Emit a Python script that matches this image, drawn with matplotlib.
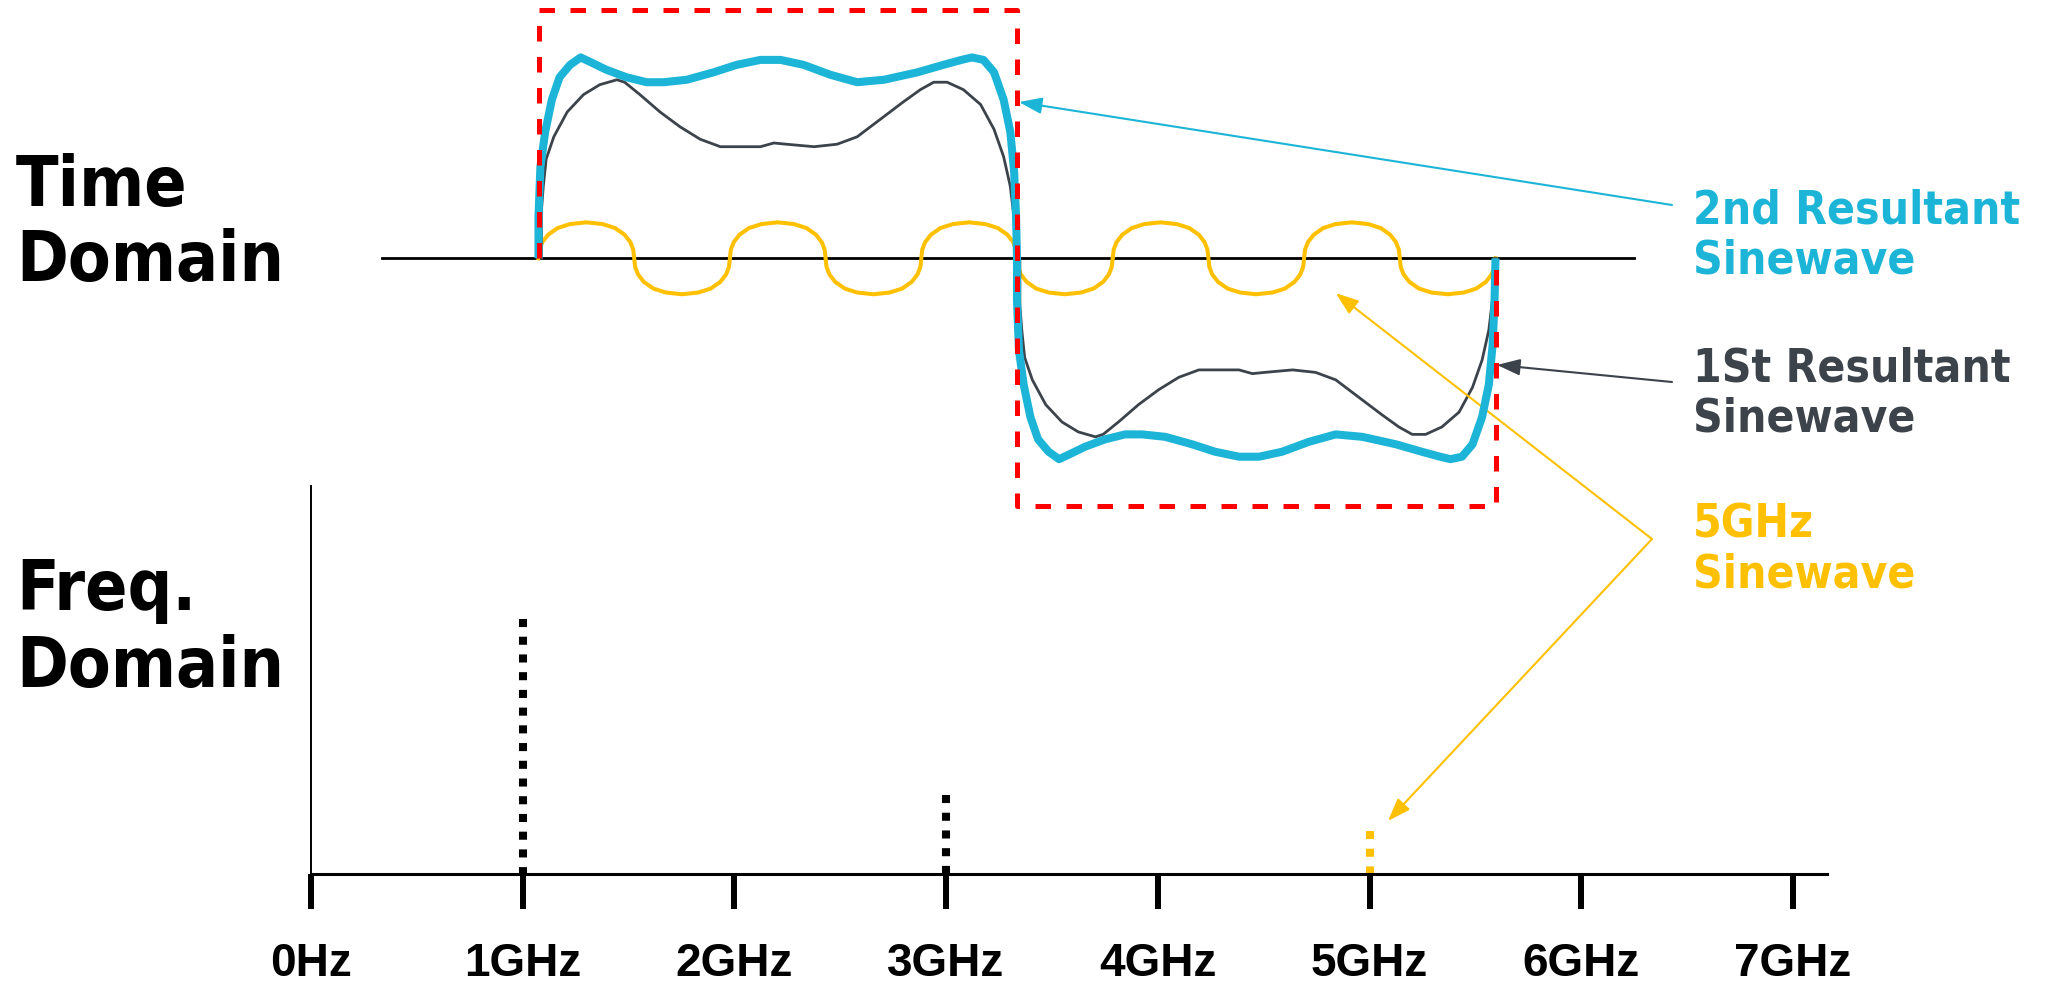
import os
import matplotlib
matplotlib.use('Agg')
import matplotlib.pyplot as plt
from matplotlib import font_manager as fm

W, H = 2049, 987

# ideal 1 GHz square wave (time in ns, amplitude 1 = square wave level)
square_t = [0.0, 0.0, 0.5, 0.5, 1.0, 1.0]
square_v = [0.0, 1.0, 1.0, -1.0, -1.0, 0.0]

# positive half cycle, the negative half mirrors it
blue_t = [0.000, 0.000, 0.002, 0.007, 0.014, 0.022, 0.033, 0.044, 0.055, 0.071,
          0.092, 0.113, 0.131, 0.155, 0.183, 0.207, 0.232, 0.253, 0.277, 0.305,
          0.333, 0.361, 0.396, 0.423, 0.442, 0.453, 0.465, 0.476, 0.486, 0.493,
          0.497, 0.499, 0.500]
blue_v = [0.00, 0.17, 0.37, 0.51, 0.64, 0.73, 0.78, 0.81, 0.79, 0.76,
          0.73, 0.71, 0.71, 0.72, 0.75, 0.78, 0.80, 0.80, 0.78, 0.74,
          0.71, 0.72, 0.75, 0.78, 0.80, 0.81, 0.80, 0.75, 0.64, 0.51,
          0.35, 0.17, 0.00]

black_t = [0.003, 0.003, 0.005, 0.008, 0.016, 0.030, 0.047, 0.064, 0.082, 0.090,
           0.106, 0.127, 0.148, 0.169, 0.190, 0.211, 0.232, 0.246, 0.259, 0.288,
           0.312, 0.333, 0.357, 0.381, 0.399, 0.413, 0.427, 0.444, 0.462, 0.476,
           0.486, 0.493, 0.498, 0.500]
black_v = [0.00, 0.19, 0.29, 0.40, 0.49, 0.59, 0.66, 0.70, 0.72, 0.71,
           0.66, 0.59, 0.53, 0.48, 0.45, 0.45, 0.45, 0.465, 0.46, 0.45,
           0.46, 0.49, 0.56, 0.63, 0.68, 0.71, 0.71, 0.68, 0.62, 0.52,
           0.41, 0.29, 0.13, 0.00]

# one 5 GHz cycle (0.2 ns) and where each cycle starts
sine_t = [0.000, 0.001, 0.004, 0.010, 0.020, 0.033, 0.050, 0.067, 0.080, 0.090,
          0.096, 0.099, 0.100, 0.101, 0.104, 0.110, 0.120, 0.133, 0.150, 0.167,
          0.180, 0.190, 0.196, 0.199, 0.200]
sine_v = [0.000, 0.035, 0.065, 0.095, 0.122, 0.138, 0.145, 0.138, 0.122, 0.095,
          0.065, 0.035, 0.000, -0.035, -0.065, -0.095, -0.122, -0.138, -0.145, -0.138,
          -0.122, -0.095, -0.065, -0.035, 0.000]
sine_starts = [0.0, 0.2, 0.4, 0.6, 0.8]

# spectrum
harm_ghz = [1, 3, 5]
harm_amp = [1.0, 0.31, 0.17]
harm_colors = ['#000000', '#000000', '#FFC000']
tick_ghz = [0, 1, 2, 3, 4, 5, 6, 7]
tick_labels = ['0Hz', '1GHz', '2GHz', '3GHz', '4GHz', '5GHz', '6GHz', '7GHz']

BLUE = '#1DB5D7'
DARK = '#3D434B'
YELLOW = '#FFC000'
RED = '#FF0000'

# Tahoma-like labels: condensed DejaVu bold if the system has it
cond = fm.findfont(fm.FontProperties(family='DejaVu Sans', weight='bold', stretch='condensed'))
has_cond = 'Condensed' in os.path.basename(cond)
big_size = 50 if has_cond else 45
side_size = 33 if has_cond else 30


def mirror(t, v):
    return t + [x + 0.5 for x in t], v + [-y for y in v]


def fig_text(x, y, s, color, size):
    fig.text(x / W, 1 - y / H, s, color=color, fontsize=size, fontweight='bold',
             family='DejaVu Sans', fontstretch='condensed', ha='left', va='baseline')


fig = plt.figure(figsize=(W / 100, H / 100), dpi=100)
fig.patch.set_facecolor('white')

# frequency domain (added first, transparent, so the time-domain box is not covered)
ax_f = fig.add_axes([311 / W, (H - 875) / H, (1827 - 311) / W, (875 - 487) / H])
ax_f.patch.set_visible(False)
ax_f.set_xlim(0, 7.161)
ax_f.set_ylim(0, 388 / 255)
for side in ['top', 'right']:
    ax_f.spines[side].set_visible(False)
ax_f.spines['left'].set_linewidth(1.4)
ax_f.spines['bottom'].set_linewidth(2.2)
ax_f.set_yticks([])
ax_f.set_xticks(tick_ghz)
ax_f.set_xticklabels(tick_labels, family='Liberation Sans', fontweight='bold', fontsize=33)
ax_f.tick_params(axis='x', direction='out', length=25, width=4.3, pad=23)

for f, a, c in zip(harm_ghz, harm_amp, harm_colors):
    ax_f.plot([f, f], [a, 0], color=c, lw=5.8, linestyle=(0, (1.0, 1.2)),
              dash_capstyle='butt', zorder=1)

# time domain
ax_t = fig.add_axes([538.5 / W, (H - 507.3) / H, 957 / W, 496 / H])
ax_t.patch.set_visible(False)
ax_t.set_xlim(0, 1)
ax_t.set_ylim(-1, 1)
ax_t.axis('off')

ax_t.plot([-0.1635, 1.1447], [0, 0], color='black', lw=2.0, clip_on=False, zorder=1)

yt, yv = [], []
for s in sine_starts:
    yt += [s + x for x in sine_t]
    yv += sine_v
ax_t.plot(yt, yv, color=YELLOW, lw=2.9, clip_on=False, zorder=2,
          solid_joinstyle='round')

bt, bv = mirror(black_t, black_v)
ax_t.plot(bt, bv, color=DARK, lw=2.0, clip_on=False, zorder=3,
          solid_joinstyle='round')

ct, cv = mirror(blue_t, blue_v)
ax_t.plot(ct, cv, color=BLUE, lw=5.8, clip_on=False, zorder=4,
          solid_joinstyle='round', solid_capstyle='butt')

ax_t.plot(square_t, square_v, color=RED, lw=3.6, linestyle=(0, (3.1, 3.1)),
          dash_capstyle='butt', clip_on=False, zorder=5)

# labels
fig_text(16, 206, 'Time', 'black', big_size)
fig_text(16, 281, 'Domain', 'black', big_size)
fig_text(16, 610, 'Freq.', 'black', big_size)
fig_text(16, 687, 'Domain', 'black', big_size)

fig_text(1693, 223, '2nd Resultant', BLUE, side_size)
fig_text(1693, 273, 'Sinewave', BLUE, side_size)
fig_text(1693, 382, '1St Resultant', DARK, side_size)
fig_text(1693, 432, 'Sinewave', DARK, side_size)
fig_text(1693, 538, '5GHz', YELLOW, side_size)
fig_text(1693, 588, 'Sinewave', YELLOW, side_size)


def arrow(ax, xy, tail, color):
    ax.annotate('', xy=xy, xycoords='data', xytext=(tail[0], H - tail[1]),
                textcoords='figure pixels', annotation_clip=False,
                arrowprops=dict(arrowstyle='-|>,head_length=0.7,head_width=0.25',
                                mutation_scale=20, color=color, lw=1.5,
                                shrinkA=0, shrinkB=0))


arrow(ax_t, (0.502, 0.630), (1672, 206), BLUE)
arrow(ax_t, (1.0016, -0.430), (1672, 383), DARK)
arrow(ax_t, (0.833, -0.140), (1652, 540), YELLOW)
arrow(ax_f, (5.087, 0.208), (1652, 540), YELLOW)

fig.savefig('out.png', dpi=100, facecolor='white')
